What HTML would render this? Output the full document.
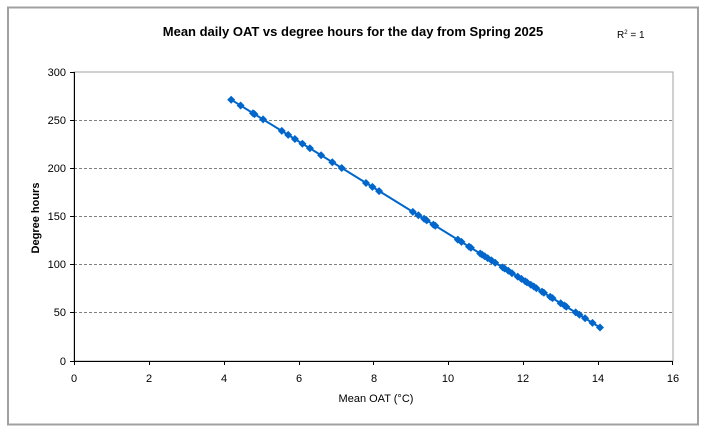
<!DOCTYPE html><html><head><meta charset="utf-8"><style>body{margin:0;background:#fff}svg{display:block}text{font-family:"Liberation Sans",Arial,sans-serif}</style></head><body>
<svg width="704" height="434" xmlns="http://www.w3.org/2000/svg">
<rect x="0" y="0" width="704" height="434" fill="#fff"/>
<rect x="8" y="7.5" width="690" height="417" fill="none" stroke="#a0a0a0" stroke-width="2"/>
<text x="353" y="36" font-size="13" font-weight="bold" text-anchor="middle">Mean daily OAT vs degree hours for the day from Spring 2025</text>
<text x="617" y="38" font-size="10">R<tspan font-size="6" dy="-4">2</tspan><tspan dy="4"> = 1</tspan></text>
<rect x="74" y="72" width="599" height="289" fill="none" stroke="#a0a0a0" stroke-width="1"/>
<g stroke="#808080" stroke-dasharray="3,2" stroke-width="1">
<line x1="74" x2="673" y1="120.5" y2="120.5"/><line x1="74" x2="673" y1="168.5" y2="168.5"/><line x1="74" x2="673" y1="216.5" y2="216.5"/><line x1="74" x2="673" y1="264.5" y2="264.5"/><line x1="74" x2="673" y1="312.5" y2="312.5"/></g>
<g stroke="#000" stroke-width="1">
<line x1="74.5" y1="72" x2="74.5" y2="361"/><line x1="74" y1="361.5" x2="673" y2="361.5"/>
<line x1="70" x2="74" y1="72.5" y2="72.5"/><line x1="70" x2="74" y1="120.5" y2="120.5"/><line x1="70" x2="74" y1="168.5" y2="168.5"/><line x1="70" x2="74" y1="216.5" y2="216.5"/><line x1="70" x2="74" y1="264.5" y2="264.5"/><line x1="70" x2="74" y1="312.5" y2="312.5"/><line x1="70" x2="74" y1="361.5" y2="361.5"/>
<line x1="74.5" x2="74.5" y1="361" y2="365"/><line x1="149.5" x2="149.5" y1="361" y2="365"/><line x1="224.5" x2="224.5" y1="361" y2="365"/><line x1="299.5" x2="299.5" y1="361" y2="365"/><line x1="373.5" x2="373.5" y1="361" y2="365"/><line x1="448.5" x2="448.5" y1="361" y2="365"/><line x1="523.5" x2="523.5" y1="361" y2="365"/><line x1="598.5" x2="598.5" y1="361" y2="365"/><line x1="672.5" x2="672.5" y1="361" y2="365"/></g>
<g font-size="11" text-anchor="end"><text x="66" y="76">300</text><text x="66" y="124">250</text><text x="66" y="172">200</text><text x="66" y="220">150</text><text x="66" y="268">100</text><text x="66" y="316">50</text><text x="66" y="365">0</text></g>
<g font-size="11" text-anchor="middle"><text x="74" y="382">0</text><text x="149" y="382">2</text><text x="224" y="382">4</text><text x="299" y="382">6</text><text x="374" y="382">8</text><text x="448" y="382">10</text><text x="523" y="382">12</text><text x="598" y="382">14</text><text x="673" y="382">16</text></g>
<text x="376" y="402" font-size="11" text-anchor="middle">Mean OAT (°C)</text>
<text transform="translate(39,218) rotate(-90)" font-size="11" font-weight="bold" text-anchor="middle">Degree hours</text>
<defs><path id="m" d="M0,-4L4,0L0,4L-4,0Z" fill="#0066cc"/></defs>
<line x1="231.2" y1="99.7" x2="600" y2="327.5" stroke="#0066cc" stroke-width="2"/>
<g>
<use href="#m" x="231.2" y="99.7"/><use href="#m" x="240.6" y="105.5"/><use href="#m" x="253" y="113.2"/><use href="#m" x="254.5" y="114.1"/><use href="#m" x="263.1" y="119.4"/><use href="#m" x="281.8" y="130.9"/><use href="#m" x="288.2" y="134.9"/><use href="#m" x="294.9" y="139"/><use href="#m" x="302.4" y="143.7"/><use href="#m" x="309.9" y="148.3"/><use href="#m" x="321.1" y="155.2"/><use href="#m" x="332.3" y="162.2"/><use href="#m" x="341.7" y="168"/><use href="#m" x="366" y="183"/><use href="#m" x="372.4" y="186.9"/><use href="#m" x="379.1" y="191.1"/><use href="#m" x="412.8" y="211.9"/><use href="#m" x="418.4" y="215.3"/><use href="#m" x="424.1" y="218.8"/><use href="#m" x="426.7" y="220.4"/><use href="#m" x="433.4" y="224.6"/><use href="#m" x="435.3" y="225.7"/><use href="#m" x="457.8" y="239.6"/><use href="#m" x="461.5" y="241.9"/><use href="#m" x="469" y="246.6"/><use href="#m" x="470.9" y="247.7"/><use href="#m" x="480.2" y="253.5"/><use href="#m" x="482.1" y="254.6"/><use href="#m" x="484.7" y="256.3"/><use href="#m" x="487.7" y="258.1"/><use href="#m" x="491.5" y="260.4"/><use href="#m" x="495.2" y="262.7"/><use href="#m" x="502.7" y="267.4"/><use href="#m" x="504.6" y="268.5"/><use href="#m" x="508.3" y="270.8"/><use href="#m" x="512" y="273.2"/><use href="#m" x="517.7" y="276.6"/><use href="#m" x="521.4" y="278.9"/><use href="#m" x="525.2" y="281.2"/><use href="#m" x="527" y="282.4"/><use href="#m" x="530.8" y="284.7"/><use href="#m" x="533.8" y="286.5"/><use href="#m" x="536.4" y="288.2"/><use href="#m" x="542" y="291.6"/><use href="#m" x="543.9" y="292.8"/><use href="#m" x="550.2" y="296.7"/><use href="#m" x="552.5" y="298.1"/><use href="#m" x="560.7" y="303.2"/><use href="#m" x="564.5" y="305.5"/><use href="#m" x="566.3" y="306.7"/><use href="#m" x="575.7" y="312.4"/><use href="#m" x="579.4" y="314.8"/><use href="#m" x="585.1" y="318.2"/><use href="#m" x="592.5" y="322.9"/><use href="#m" x="600" y="327.5"/>
</g>
</svg></body></html>
